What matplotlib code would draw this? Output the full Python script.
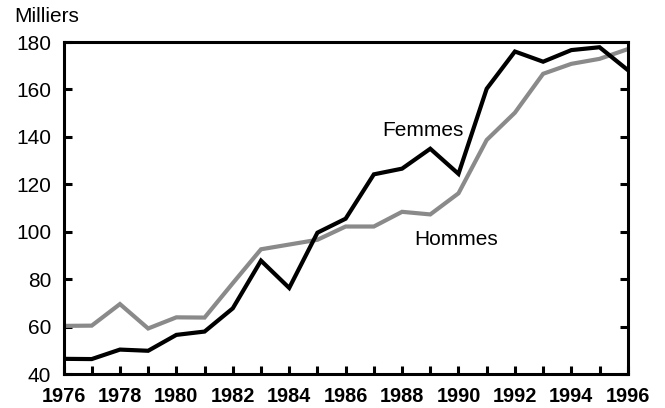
import matplotlib
matplotlib.use("Agg")
import matplotlib.pyplot as plt

plt.rcParams['font.family'] = ['Liberation Sans', 'DejaVu Sans']

years = list(range(1976, 1997))
femmes = [46.4, 46.3, 50.3, 49.8, 56.5, 57.9, 67.7, 87.8, 76.3, 99.6, 105.5,
          124.2, 126.6, 135.0, 124.4, 160.3, 176.0, 171.7, 176.6, 177.8, 168.2]
hommes = [60.3, 60.4, 69.5, 59.2, 63.9, 63.8, 78.3, 92.6, 94.6, 96.6, 102.2,
          102.2, 108.4, 107.3, 116.2, 138.7, 150.2, 166.6, 170.8, 172.9, 177.0]
yticks = [40, 60, 80, 100, 120, 140, 160, 180]
xticks = list(range(1976, 1997, 2))

fig = plt.figure(figsize=(6.65, 4.08), dpi=100)
ax = fig.add_axes([0.0955, 0.0833, 0.8485, 0.8137])

ax.plot(years, hommes, color='#8a8a8a', lw=3.0, solid_joinstyle='miter', clip_on=True)
ax.plot(years, femmes, color='black', lw=3.0, solid_joinstyle='miter', clip_on=True)

ax.set_xlim(1976, 1996)
ax.set_ylim(40, 180)

for s in ax.spines.values():
    s.set_linewidth(2.2)

ax.set_yticks(yticks)
ax.set_yticklabels([str(v) for v in yticks], fontsize=15)
ax.set_xticks(years, minor=False)
ax.set_xticklabels([str(y) if y % 2 == 0 else '' for y in years],
                   fontsize=14.3, fontweight='bold')
ax.tick_params(axis='y', direction='in', length=6, width=2.2, left=True, right=True, pad=9)
ax.tick_params(axis='x', direction='in', length=6, width=2.2, bottom=True, top=False, pad=9)

ax.text(1988.75, 142.9, 'Femmes', fontsize=15, ha='center', va='center')
ax.text(1989.9, 96.9, 'Hommes', fontsize=15, ha='center', va='center')
fig.text(0.022, 0.96, 'Milliers', fontsize=15, ha='left', va='center')

fig.savefig('out.png', dpi=100)
